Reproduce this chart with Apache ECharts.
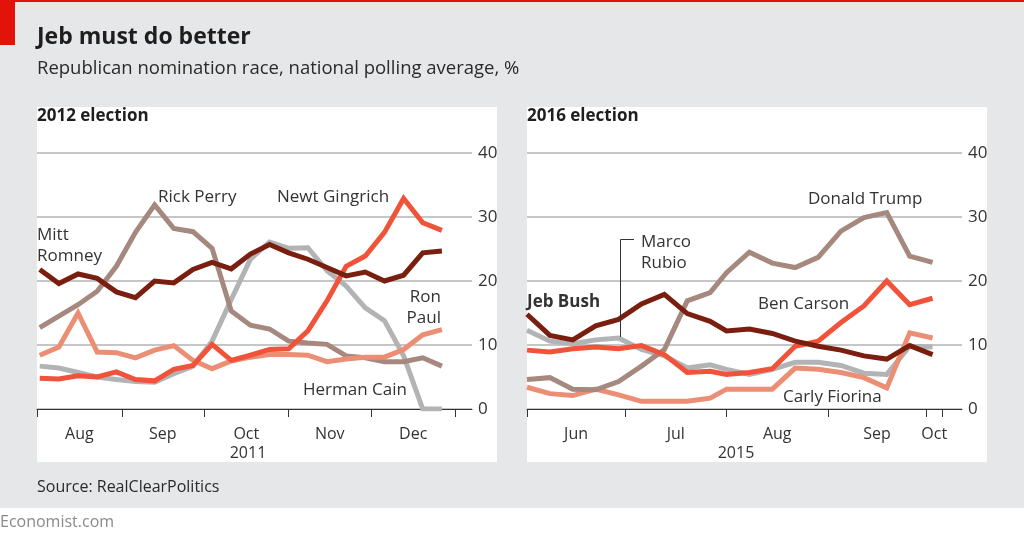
<!DOCTYPE html>
<html><head><meta charset="utf-8">
<script src="https://cdn.jsdelivr.net/npm/echarts@6/dist/echarts.min.js"></script>
<style>html,body{margin:0;padding:0;background:#fff}#c{width:1024px;height:540px}</style>
</head><body><div id="c"></div><script>
// ---- 2012 election (weekly, 2011) ----
const dates2012 = ['2011-08-02','2011-08-09','2011-08-16','2011-08-23','2011-08-30','2011-09-06','2011-09-13','2011-09-20','2011-09-27','2011-10-04','2011-10-11','2011-10-18','2011-10-25','2011-11-01','2011-11-08','2011-11-15','2011-11-22','2011-11-29','2011-12-06','2011-12-13','2011-12-20','2011-12-27'];
const romney   = [21.8,19.6,21.1,20.4,18.3,17.4,20.0,19.7,21.8,22.9,21.9,24.2,25.7,24.4,23.4,22.1,20.8,21.4,20.0,20.9,24.4,24.7];
const perry    = [12.7,14.5,16.3,18.4,22.3,27.6,31.9,28.2,27.7,25.1,15.3,13.1,12.5,10.6,10.3,10.1,8.3,8.0,7.4,7.4,8.0,6.7];
const cain     = [6.7,6.4,5.7,5.0,4.6,4.3,4.2,5.5,6.7,10.6,17.1,23.4,26.1,25.1,25.2,21.6,19.2,15.8,13.8,8.3,0,0];
const gingrich = [4.8,4.7,5.2,5.0,5.8,4.6,4.4,6.2,6.8,10.1,7.6,8.4,9.3,9.4,12.2,16.9,22.3,23.9,27.6,32.9,29.1,27.9];
const paul     = [8.4,9.7,15.0,8.9,8.8,8.0,9.2,9.9,7.6,6.3,7.5,8.1,8.5,8.5,8.4,7.4,7.8,8.1,8.1,9.3,11.6,12.4];
const ticks2012 = ['2011-08-01','2011-09-01','2011-10-01','2011-11-01','2011-12-01','2012-01-01'];
const months2012 = ['Aug','Sep','Oct','Nov','Dec'];
const range2012 = ['2011-08-01','2012-01-07'];

// ---- 2016 election (2015) ----
const dates2016 = ['2015-06-01','2015-06-08','2015-06-15','2015-06-22','2015-06-29','2015-07-06','2015-07-13','2015-07-20','2015-07-27','2015-08-01','2015-08-08','2015-08-15','2015-08-22','2015-08-29','2015-09-05','2015-09-12','2015-09-19','2015-09-26','2015-10-03'];
const bush     = [14.8,11.5,10.8,13.0,14.0,16.4,17.9,14.9,13.7,12.2,12.5,11.8,10.6,9.8,9.2,8.3,7.8,9.9,8.5];
const trump    = [4.6,4.9,3.1,3.0,4.3,6.7,9.3,16.9,18.2,21.3,24.5,22.8,22.1,23.7,27.8,29.9,30.7,23.9,22.9];
const rubio    = [12.3,10.6,10.2,10.8,11.1,9.3,8.3,6.4,6.9,6.2,5.4,6.2,7.3,7.3,6.8,5.6,5.4,9.8,9.7];
const carson   = [9.2,8.9,9.4,9.7,9.4,9.9,8.5,5.7,5.9,5.4,5.7,6.3,9.8,10.6,13.5,16.1,20.0,16.3,17.3];
const fiorina  = [3.4,2.4,2.1,3.1,2.2,1.2,1.2,1.2,1.7,3.1,3.1,3.1,6.4,6.2,5.7,4.9,3.3,11.9,11.1];
const ticks2016 = ['2015-06-01','2015-07-01','2015-08-01','2015-09-01','2015-10-01','2015-10-06'];
const months2016 = ['Jun','Jul','Aug','Sep','Oct'];
const range2016 = ['2015-06-01','2015-10-12'];

const yTicks = [0,10,20,30,40];

const C = {dark:'#7a1f0f', taupe:'#a6897e', red:'#f0533a', grey:'#b2b3b5', salmon:'#ec8e73'};
const FONT = '"Open Sans", "Noto Sans", sans-serif';
const ts = s => Date.parse(s + 'T00:00:00Z');
const pairs = (d, v) => d.map((x, i) => [ts(x), v[i]]);

function xAxisFor(idx, ticks, months, range) {
  const t = ticks.map(ts);
  const mids = months.map((m, i) => (t[i] + t[i + 1]) / 2);
  return {
    type: 'value', gridIndex: idx, min: ts(range[0]), max: ts(range[1]),
    axisLine: {show: true, onZero: false, lineStyle: {color: '#333', width: 1}},
    axisTick: {show: true, customValues: t, length: 8, lineStyle: {color: '#333', width: 1}},
    axisLabel: {customValues: mids, margin: 17, color: '#333', fontSize: 16, fontFamily: FONT,
      formatter: v => { let best = 0; mids.forEach((m, i) => { if (Math.abs(m - v) < Math.abs(mids[best] - v)) best = i; }); return months[best]; }},
    splitLine: {show: false}
  };
}
function yAxisFor(idx) {
  return {
    type: 'value', gridIndex: idx, position: 'right', min: yTicks[0], max: yTicks[yTicks.length - 1], interval: 10,
    axisLine: {show: false}, axisTick: {show: false},
    axisLabel: {margin: 6, color: '#333', fontSize: 17, fontFamily: FONT},
    splitLine: {show: true, lineStyle: {color: '#c6c6c6', width: 2}}
  };
}
function line(name, idx, d, v, color) {
  return {name, type: 'line', xAxisIndex: idx, yAxisIndex: idx, data: pairs(d, v), showSymbol: false,
    lineStyle: {color, width: 5, cap: 'butt', join: 'miter'}, itemStyle: {color}, animation: false, z: 3};
}
function txt(text, x, y, opt) {
  opt = opt || {};
  return {type: 'text', z: 100, style: {text, x, y, fill: opt.fill || '#333', textAlign: opt.align || 'left', textVerticalAlign: 'middle',
    font: (opt.weight || 'normal') + ' ' + (opt.size || 17) + 'px ' + FONT}};
}

const chart = echarts.init(document.getElementById('c'), null, {renderer: 'canvas'});
chart.setOption({
  backgroundColor: '#ffffff',
  animation: false,
  grid: [
    {left: 37, right: 552, top: 153, bottom: 131},
    {left: 527, right: 62, top: 153, bottom: 131}
  ],
  xAxis: [xAxisFor(0, ticks2012, months2012, range2012), xAxisFor(1, ticks2016, months2016, range2016)],
  yAxis: [yAxisFor(0), yAxisFor(1)],
  series: [
    line('Herman Cain', 0, dates2012, cain, C.grey),
    line('Rick Perry', 0, dates2012, perry, C.taupe),
    line('Ron Paul', 0, dates2012, paul, C.salmon),
    line('Newt Gingrich', 0, dates2012, gingrich, C.red),
    line('Mitt Romney', 0, dates2012, romney, C.dark),
    line('Marco Rubio', 1, dates2016, rubio, C.grey),
    line('Carly Fiorina', 1, dates2016, fiorina, C.salmon),
    line('Donald Trump', 1, dates2016, trump, C.taupe),
    line('Ben Carson', 1, dates2016, carson, C.red),
    line('Jeb Bush', 1, dates2016, bush, C.dark)
  ],
  graphic: [
    {type: 'rect', z: -10, shape: {x: 0, y: 0, width: 1024, height: 508}, style: {fill: '#e6e7e8'}},
    {type: 'rect', z: -9, shape: {x: 0, y: 0, width: 1024, height: 2}, style: {fill: '#e3120b'}},
    {type: 'rect', z: -9, shape: {x: 0, y: 0, width: 15, height: 45}, style: {fill: '#e3120b'}},
    {type: 'rect', z: -9, shape: {x: 37, y: 107, width: 460, height: 355}, style: {fill: '#ffffff'}},
    {type: 'rect', z: -9, shape: {x: 527, y: 107, width: 460, height: 355}, style: {fill: '#ffffff'}},
    txt('Jeb must do better', 37, 37, {size: 23, weight: 'bold', fill: '#1e1e1e'}),
    txt('Republican nomination race, national polling average, %', 37, 69, {size: 18.5, fill: '#2a2a2a'}),
    txt('2012 election', 37, 116, {size: 17, weight: 'bold', fill: '#1e1e1e'}),
    txt('2016 election', 527, 116, {size: 17, weight: 'bold', fill: '#1e1e1e'}),
    txt('Mitt', 37, 235), txt('Romney', 37, 256),
    txt('Rick Perry', 158, 197),
    txt('Newt Gingrich', 277, 197),
    txt('Ron', 441, 297, {align: 'right'}), txt('Paul', 441, 318, {align: 'right'}),
    txt('Herman Cain', 303, 390),
    txt('2011', 248, 453, {align: 'center', size: 16}),
    txt('Jeb Bush', 527, 302, {weight: 'bold'}),
    txt('Marco', 641, 242), txt('Rubio', 641, 263),
    {type: 'polyline', z: 100, shape: {points: [[634, 239.5], [620.5, 239.5], [620.5, 337]]}, style: {stroke: '#333', lineWidth: 1, fill: null}},
    txt('Donald Trump', 808, 199),
    txt('Ben Carson', 758, 304),
    txt('Carly Fiorina', 783, 397),
    txt('2015', 736, 453, {align: 'center', size: 16}),
    txt('Source: RealClearPolitics', 37, 487, {size: 16, fill: '#2a2a2a'}),
    txt('Economist.com', 0, 522, {size: 16, fill: '#8a8a8a'})
  ]
});
</script></body></html>
